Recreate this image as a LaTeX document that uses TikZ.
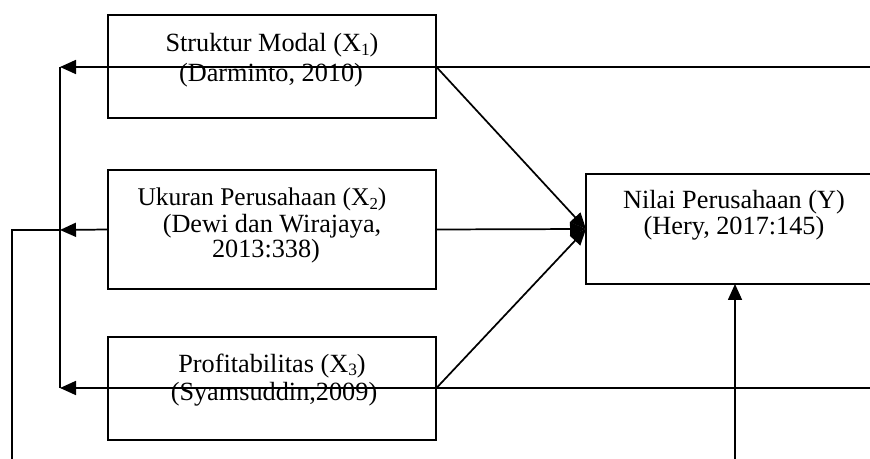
\documentclass[tikz,border=0pt]{standalone}
\usepackage{fontspec}
\setmainfont{Liberation Serif}
\usetikzlibrary{arrows.meta}
\newcommand\mysub[1]{\raisebox{-0.14em}{\fontsize{0.66em}{1em}\selectfont #1}}
\begin{document}
\begin{tikzpicture}[x=0.75pt,y=-0.75pt,
 box/.style={draw, line width=1.3pt, rectangle, inner sep=0pt, outer sep=0pt, anchor=north west},
 txt/.style={anchor=base, inner sep=0pt, font=\fontsize{19.7}{22}\selectfont},
 conn/.style={line width=1.3pt},
 arr/.style={conn, -{Triangle[length=12pt,width=10.5pt]}}]
\useasboundingbox (0,0) rectangle (870,459);
\clip (0,0) rectangle (870,459);
% boxes
\node[box, minimum width=246pt, minimum height=77.25pt] (x1) at (108,15) {};
\node[box, minimum width=246pt, minimum height=89.25pt] (x2) at (108,170) {};
\node[box, minimum width=246pt, minimum height=77.25pt] (x3) at (108,337) {};
\node[box, minimum width=240pt, minimum height=82.5pt] (y) at (586,174) {};
% texts
\node[txt] (t11) at (272,52) {Struktur Modal (X\mysub{1})};
\node[txt] (t12) at (271,82) {(Darminto, 2010)};
\node[txt, font=\fontsize{19.1}{22}\selectfont] (t21) at (262,206) {Ukuran Perusahaan (X\mysub{2})};
\node[txt] (t22) at (272,233) {(Dewi dan Wirajaya,};
\node[txt] (t23) at (266,258) {2013:338)};
\node[txt] (t31) at (272,372) {Profitabilitas (X\mysub{3})};
\node[txt] (t32) at (274,400) {(Syamsuddin,2009)};
\node[txt] (ty1) at (734,209) {Nilai Perusahaan (Y)};
\node[txt] (ty2) at (734,235) {(Hery, 2017:145)};
% coordinates
\coordinate (e1) at (870,67);
\coordinate (e3) at (870,388);
\coordinate (j1) at (60,67);
\coordinate (j2) at (60,230);
\coordinate (j3) at (60,388);
\coordinate (b1) at (12,459);
\coordinate (b2) at (735,459);
% connectors
\draw[arr] (e1) -- (j1);
\draw[conn] (j1) -- (j3);
\draw[arr] (x2.west) -- (j2);
\draw[arr] (e3) -- (j3);
\draw[conn] (b1) |- (j2);
\draw[arr] (x1.east) -- (y.west);
\draw[arr] (x2.east) -- (y.west);
\draw[arr] (x3.east) -- (y.west);
\draw[arr] (b2) -- (b2 |- y.south);
\end{tikzpicture}
\end{document}
